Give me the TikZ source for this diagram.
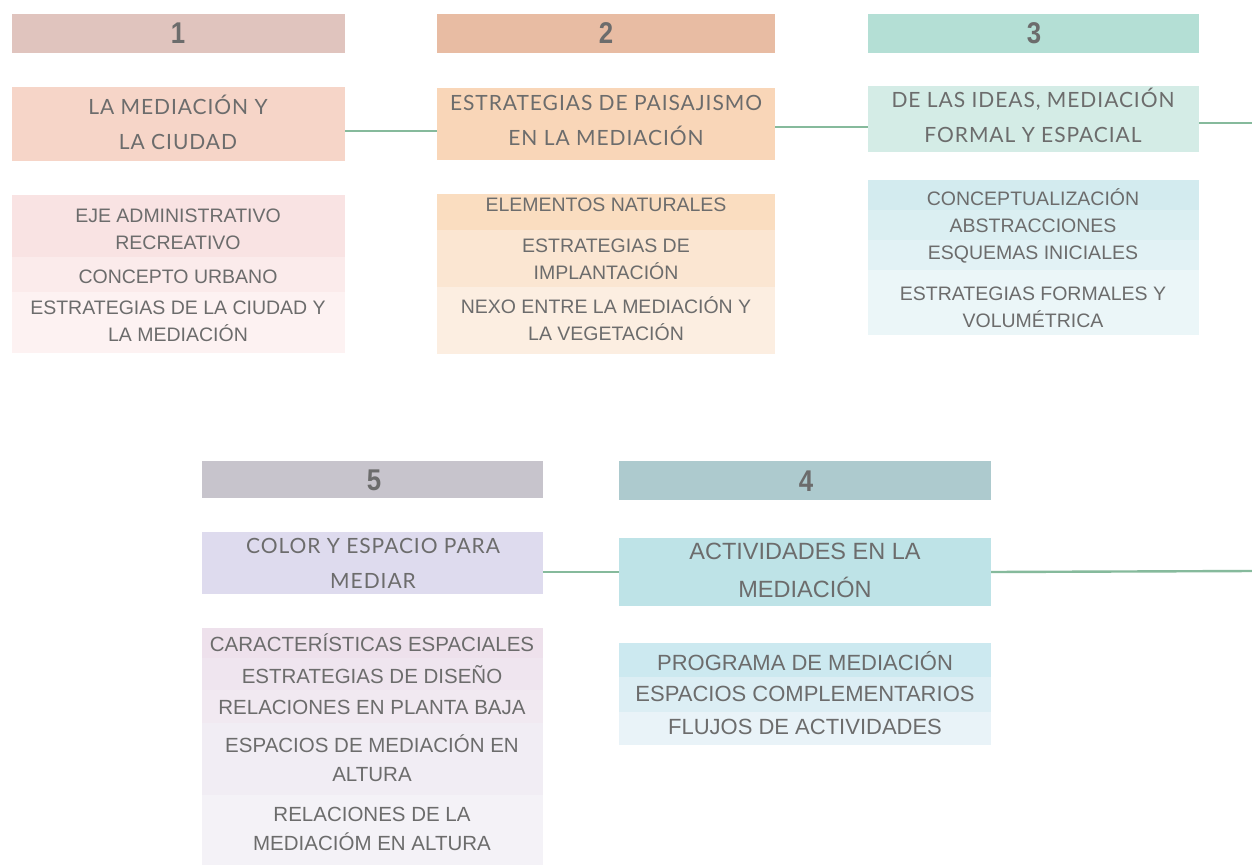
\documentclass[tikz,border=0pt]{standalone}
\usepackage{fontspec}
\usepackage{graphicx}
\setmainfont{Liberation Sans}
\newfontfamily\hfont[LetterSpace=4.5]{Lato}
\definecolor{txt}{HTML}{6C6C6C}
\definecolor{lnk}{HTML}{86BA9C}
\definecolor{ha}{HTML}{E0C4BE}\definecolor{ma}{HTML}{F6D5C8}
\definecolor{saa}{HTML}{F9E3E3}\definecolor{sab}{HTML}{FBEBEB}\definecolor{sac}{HTML}{FDF2F2}
\definecolor{hb}{HTML}{E8BCA3}\definecolor{mb}{HTML}{F9D6B8}
\definecolor{sba}{HTML}{FADDC0}\definecolor{sbb}{HTML}{FBE6D2}\definecolor{sbc}{HTML}{FCEEE1}
\definecolor{hc}{HTML}{B4DFD5}\definecolor{mc}{HTML}{D4ECE6}
\definecolor{sca}{HTML}{D3EBEF}\definecolor{scb}{HTML}{DBEFF2}\definecolor{scc}{HTML}{E2F2F5}\definecolor{scd}{HTML}{EBF6F8}
\definecolor{he}{HTML}{C7C4CC}\definecolor{me}{HTML}{DEDBEE}
\definecolor{sea}{HTML}{EEE1EC}\definecolor{seb}{HTML}{EFE5EF}\definecolor{sec}{HTML}{F1E9F1}\definecolor{sed}{HTML}{F1EDF4}\definecolor{see}{HTML}{F4F2F7}
\definecolor{hd}{HTML}{ADCACE}\definecolor{md}{HTML}{BEE3E7}
\definecolor{sda}{HTML}{CCE9F0}\definecolor{sdb}{HTML}{DCEEF4}\definecolor{sdc}{HTML}{E9F3F8}
\tikzset{
  fbox/.style={rectangle, inner sep=0pt, outer sep=0pt, draw=none},
  num/.style={text=txt, inner sep=0pt, font=\fontsize{30}{30}\selectfont\bfseries},
  mtxt/.style={text=txt, inner sep=0pt, align=center, font=\hfont\fontsize{21}{35}\selectfont},
  mtxtb/.style={text=txt, inner sep=0pt, align=center, font=\fontsize{23.5}{38}\selectfont},
  stxt/.style={text=txt, inner sep=0pt, align=center, font=\fontsize{19.5}{27}\selectfont},
  stxte/.style={text=txt, inner sep=0pt, align=center, font=\fontsize{20.5}{29}\selectfont},
  stxtd/.style={text=txt, inner sep=0pt, align=center, font=\fontsize{22}{33}\selectfont},
  link/.style={draw=lnk, line width=2.4pt}
}
\newcommand{\bx}[6]{% name, color, x1, y1, x2, y2
  \node[fbox, fill=#2, minimum width={(#5)-(#3)}, minimum height={(#6)-(#4)}] (#1) at ({((#3)+(#5))/2},{((#4)+(#6))/2}) {};}
\newcommand{\nm}[1]{\scalebox{0.86}[1]{#1}}
\begin{document}
\begin{tikzpicture}[x=1pt,y=-1pt]
\useasboundingbox (0,0) rectangle (1252,865);
\fill[white] (0,0) rectangle (1252,865);
% ---------- column 1
\bx{h1}{ha}{12}{14}{345}{53}
\bx{m1}{ma}{12}{87}{345}{161}
\bx{s1a}{saa}{12}{195}{345}{257}
\bx{s1b}{sab}{12}{257}{345}{292}
\bx{s1c}{sac}{12}{292}{345}{353}
\node[num] (n1) at (178,33) {\nm{1}};
\node[mtxt] (t1) at (178,122) {LA MEDIACIÓN Y\\LA CIUDAD};
\node[stxt] (u1a) at (178,229.5) {EJE ADMINISTRATIVO\\RECREATIVO};
\node[stxt] (u1b) at (178,277) {CONCEPTO URBANO};
\node[stxt] (u1c) at (178,321.5) {ESTRATEGIAS DE LA CIUDAD Y\\LA MEDIACIÓN};
% ---------- column 2
\bx{h2}{hb}{437}{14}{775}{53}
\bx{m2}{mb}{437}{88}{775}{160}
\bx{s2a}{sba}{437}{194}{775}{230}
\bx{s2b}{sbb}{437}{230}{775}{287}
\bx{s2c}{sbc}{437}{287}{775}{354}
\node[num] (n2) at (606,33) {\nm{2}};
\node[mtxt] (t2) at (606,120.5) {ESTRATEGIAS DE PAISAJISMO\\EN LA MEDIACIÓN};
\node[stxt] (u2a) at (606,205) {ELEMENTOS NATURALES};
\node[stxt] (u2b) at (606,259.5) {ESTRATEGIAS DE\\IMPLANTACIÓN};
\node[stxt] (u2c) at (606,319) {NEXO ENTRE LA MEDIACIÓN Y\\LA VEGETACIÓN};
% ---------- column 3
\bx{h3}{hc}{868}{14}{1199}{53}
\bx{m3}{mc}{868}{86}{1199}{152}
\bx{s3a}{sca}{868}{180}{1199}{210}
\bx{s3b}{scb}{868}{210}{1199}{240}
\bx{s3c}{scc}{868}{240}{1199}{270}
\bx{s3d}{scd}{868}{270}{1199}{335}
\node[num] (n3) at (1034,33) {\nm{3}};
\node[mtxt] (t3) at (1033,115.5) {DE LAS IDEAS, MEDIACIÓN\\FORMAL Y ESPACIAL};
\node[stxt] (u3a) at (1033,197) {CONCEPTUALIZACIÓN};
\node[stxt] (u3b) at (1033,226) {ABSTRACCIONES};
\node[stxt] (u3c) at (1033,255) {ESQUEMAS INICIALES};
\node[stxt] (u3d) at (1033,307.5) {ESTRATEGIAS FORMALES Y\\VOLUMÉTRICA};
% ---------- column 5
\bx{h5}{he}{202}{461}{543}{498}
\bx{m5}{me}{202}{532}{543}{594}
\bx{s5a}{sea}{202}{628}{543}{658}
\bx{s5b}{seb}{202}{658}{543}{690}
\bx{s5c}{sec}{202}{690}{543}{723}
\bx{s5d}{sed}{202}{723}{543}{795}
\bx{s5e}{see}{202}{795}{543}{865}
\node[num] (n5) at (374,480) {\nm{5}};
\node[mtxt] (t5) at (373,563.5) {COLOR Y ESPACIO PARA\\MEDIAR};
\node[stxte] (u5a) at (372,643) {CARACTERÍSTICAS ESPACIALES};
\node[stxte] (u5b) at (372,675) {ESTRATEGIAS DE DISEÑO};
\node[stxte] (u5c) at (372,707) {RELACIONES EN PLANTA BAJA};
\node[stxte] (u5d) at (372,758.5) {ESPACIOS DE MEDIACIÓN EN\\ALTURA};
\node[stxte] (u5e) at (372,829) {RELACIONES DE LA\\MEDIACIÓM EN ALTURA};
% ---------- column 4
\bx{h4}{hd}{619}{461}{991}{500}
\bx{m4}{md}{619}{538}{991}{606}
\bx{s4a}{sda}{619}{643}{991}{677}
\bx{s4b}{sdb}{619}{677}{991}{712}
\bx{s4c}{sdc}{619}{712}{991}{745}
\node[num] (n4) at (806,481) {\nm{4}};
\node[mtxtb] (t4) at (805,570) {ACTIVIDADES EN LA\\MEDIACIÓN};
\node[stxtd] (u4a) at (805,661) {PROGRAMA DE MEDIACIÓN};
\node[stxtd] (u4b) at (805,694) {ESPACIOS COMPLEMENTARIOS};
\node[stxtd] (u4c) at (805,727) {FLUJOS DE ACTIVIDADES};
% ---------- connectors
\coordinate (e3) at (1252,123);
\coordinate (e4) at (1252,571);
\draw[link] ([yshift=-7pt]m1.east) -- ([yshift=-7pt]m2.west);
\draw[link] ([yshift=-3pt]m2.east) -- ([yshift=-8pt]m3.west);
\draw[link] ([yshift=-4pt]m3.east) -- (e3);
\draw[link] ([yshift=-9pt]m5.east) -- (m4.west);
\draw[link] (m4.east) -- (e4);
\end{tikzpicture}
\end{document}
